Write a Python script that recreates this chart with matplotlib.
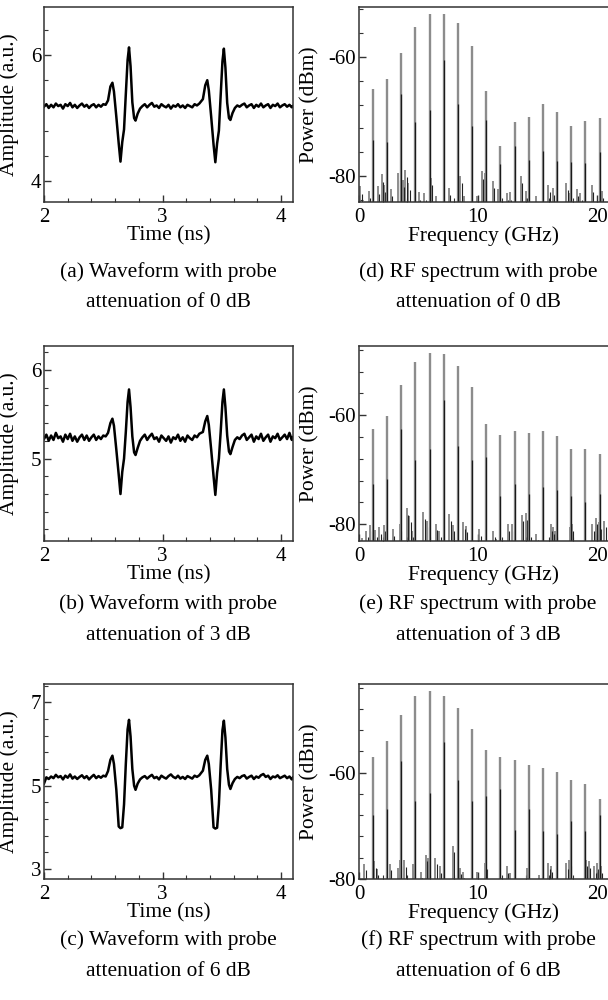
import matplotlib
matplotlib.use("Agg")
import matplotlib.pyplot as plt
from matplotlib.ticker import MultipleLocator, FuncFormatter

plt.rcParams['font.family'] = ['Liberation Serif', 'DejaVu Serif']

# ---------------- waveform data ----------------
wave_time = [2.00,2.02,2.04,2.06,2.08,2.10,2.12,2.14,2.16,2.18,2.20,2.22,2.24,2.26,2.28,2.30,2.32,2.34,2.36,2.38,2.40,2.42,2.44,2.46,2.48,2.50,2.52,
             2.54,2.56,2.577,2.59,2.61,2.63,2.645,2.66,2.675,2.69,2.705,2.717,2.73,2.745,2.76,2.772,2.79,2.81,2.83,
             2.85,2.87,2.89,2.91,2.93,2.95,2.97,2.99,3.01,3.03,3.05,3.07,3.09,3.11,3.13,3.15,3.17,3.19,3.21,3.23,3.25,3.27,3.29,3.31,
             3.34,3.36,3.377,3.39,3.41,3.43,3.445,3.46,3.475,3.49,3.505,3.517,3.53,3.545,3.56,3.572,3.59,3.61,3.63,
             3.65,3.67,3.69,3.71,3.73,3.75,3.77,3.79,3.81,3.83,3.85,3.87,3.89,3.91,3.93,3.95,3.97,3.99,4.01,4.03,4.05,4.07,4.09,4.10]

wave_a = [5.18,5.22,5.16,5.21,5.17,5.23,5.19,5.21,5.15,5.22,5.19,5.24,5.17,5.21,5.16,5.20,5.23,5.18,5.21,5.16,5.20,5.22,5.17,5.21,5.18,5.22,5.21,
          5.28,5.50,5.56,5.42,5.02,4.60,4.31,4.62,4.82,5.38,5.92,6.12,5.82,5.25,5.00,4.96,5.07,5.15,5.19,
          5.22,5.17,5.21,5.24,5.18,5.20,5.16,5.22,5.19,5.17,5.21,5.15,5.20,5.18,5.22,5.17,5.20,5.16,5.21,5.19,5.17,5.22,5.20,5.23,
          5.30,5.52,5.60,5.44,5.02,4.58,4.30,4.60,4.80,5.36,5.90,6.10,5.80,5.24,5.00,4.97,5.08,5.16,5.20,
          5.18,5.21,5.23,5.17,5.20,5.22,5.16,5.21,5.18,5.23,5.17,5.20,5.22,5.16,5.21,5.19,5.23,5.17,5.20,5.22,5.18,5.21,5.17,5.19]

wave_b = [5.22,5.27,5.20,5.26,5.21,5.29,5.23,5.25,5.19,5.27,5.22,5.28,5.20,5.25,5.19,5.24,5.27,5.21,5.26,5.20,5.24,5.27,5.21,5.25,5.22,5.26,5.25,
          5.29,5.40,5.45,5.37,5.10,4.82,4.60,4.85,5.00,5.30,5.64,5.78,5.58,5.25,5.07,5.04,5.12,5.20,5.24,
          5.27,5.21,5.25,5.28,5.22,5.24,5.19,5.26,5.23,5.20,5.25,5.18,5.24,5.22,5.27,5.20,5.24,5.19,5.26,5.23,5.21,5.26,5.24,5.28,
          5.30,5.42,5.48,5.38,5.10,4.80,4.59,4.84,5.00,5.30,5.64,5.78,5.58,5.26,5.08,5.05,5.13,5.21,5.24,
          5.22,5.26,5.28,5.21,5.24,5.27,5.19,5.25,5.22,5.28,5.20,5.24,5.27,5.19,5.25,5.23,5.28,5.21,5.24,5.27,5.22,5.29,5.21,5.24]

wave_c = [5.05,5.20,5.16,5.22,5.18,5.26,5.20,5.23,5.15,5.24,5.19,5.27,5.17,5.22,5.16,5.21,5.25,5.18,5.23,5.15,5.21,5.26,5.18,5.23,5.19,5.24,5.22,
          5.35,5.62,5.72,5.52,4.90,4.02,3.98,4.00,4.55,5.52,6.35,6.58,6.18,5.40,5.00,4.90,5.05,5.15,5.20,
          5.23,5.17,5.22,5.26,5.18,5.21,5.15,5.24,5.20,5.17,5.23,5.27,5.21,5.18,5.24,5.17,5.21,5.16,5.23,5.20,5.17,5.24,5.21,5.25,
          5.36,5.62,5.72,5.52,4.90,4.00,3.97,3.99,4.55,5.50,6.33,6.56,6.16,5.40,5.02,4.92,5.06,5.16,5.21,
          5.18,5.23,5.25,5.17,5.21,5.24,5.16,5.22,5.19,5.25,5.28,5.21,5.24,5.16,5.22,5.20,5.25,5.18,5.21,5.24,5.18,5.22,5.15,5.20]

# ---------------- spectrum data ----------------
harm_freq = [1.16, 2.36, 3.55, 4.74, 5.93, 7.12, 8.31, 9.50, 10.69, 11.88, 13.07, 14.26, 15.45, 16.64, 17.83, 19.02, 20.21]

peak_d = [-65.4,-63.8,-59.4,-55.1,-52.9,-52.9,-54.4,-58.2,-65.7,-75.0,-71.0,-70.1,-67.9,-69.2,-71.6,-70.7,-70.3]
dark_d = [-73.9,-74.2,-66.3,-71.0,-68.9,-60.6,-67.9,-71.6,-70.6,-78.0,-75.0,-77.2,-75.7,-77.4,-77.6,-77.8,-76.0]
peak_e = [-62.6,-60.2,-54.5,-50.3,-48.5,-48.7,-50.9,-54.9,-61.7,-63.6,-62.9,-63.3,-62.9,-63.9,-66.2,-66.3,-67.2]
dark_e = [-72.7,-71.7,-62.5,-68.3,-66.3,-57.2,-65.7,-68.3,-67.7,-74.8,-72.6,-74.5,-73.2,-73.8,-74.8,-76.0,-74.5]
peak_f = [-57.0,-54.0,-49.1,-45.5,-44.6,-45.5,-47.9,-51.7,-55.8,-57.0,-57.6,-58.6,-59.2,-59.8,-61.3,-62.1,-64.9]
dark_f = [-67.9,-66.9,-57.8,-65.3,-63.9,-54.3,-61.3,-65.3,-64.4,-63.1,-70.7,-66.8,-71.0,-71.6,-69.1,-71.0,-67.9]

noise_f_d = [0.1,0.8,1.6,1.9,2.06,2.67,3.3,3.7,3.9,4.15,5.0,5.5,6.05,6.5,7.55,8.5,8.8,9.9,10.3,10.55,11.25,11.7,12.4,12.65,13.6,14.0,14.9,15.9,16.3,17.4,17.7,18.3,18.6,19.55,20.4]
noise_p_d = [-81.7,-82.5,-81.7,-79.7,-81.4,-82.1,-79.4,-80.6,-78.9,-81.1,-82.7,-82.8,-80.3,-83.3,-81.9,-80.0,-83.3,-83.3,-79.2,-79.4,-80.8,-82.2,-82.8,-82.7,-80.0,-82.5,-83.3,-81.4,-81.9,-81.1,-82.8,-82.1,-82.8,-81.4,-82.5]
noise_f_e = [0.25,0.6,0.95,1.36,1.72,2.06,2.84,3.45,4.0,4.23,4.43,5.4,5.74,6.46,6.74,7.58,7.9,8.75,8.95,10.1,11.3,11.5,12.5,12.87,13.7,14.0,14.3,14.9,16.1,16.3,16.5,17.7,17.9,19.6,19.9,20.2,20.6]
noise_p_e = [-82.5,-81.2,-80.1,-81.1,-80.6,-80.1,-80.9,-80.0,-77.1,-78.5,-81.2,-77.8,-79.4,-79.9,-81.2,-78.2,-80.1,-79.7,-80.3,-80.9,-81.2,-82.8,-80.0,-80.0,-78.3,-78.0,-81.2,-81.8,-80.0,-80.6,-81.2,-80.6,-80.0,-80.0,-78.8,-79.7,-79.4]
noise_f_f = [0.45,1.3,1.5,2.6,3.3,3.45,3.8,4.5,5.18,5.6,5.8,6.4,6.8,7.9,8.47,8.7,9.9,10.6,11.9,12.4,12.65,14.1,15.15,15.9,16.1,17.4,17.66,19.05,19.3,19.75,20.0,20.3]
noise_p_f = [-77.1,-76.7,-78.1,-77.1,-77.9,-76.4,-76.5,-77.1,-78.7,-75.4,-76.0,-76.0,-77.6,-73.7,-77.9,-78.7,-78.6,-77.0,-79.8,-77.6,-78.9,-77.9,-79.2,-76.9,-77.5,-77.0,-76.4,-76.4,-76.7,-77.6,-77.0,-77.6]

# (label, trace, ylim, major step, major offset, minor step, minor offset, attenuation)
wave_sets = [
    ("a", wave_a, (3.67, 6.76), 2, 0, 0.4, 0, "0"),
    ("b", wave_b, (4.07, 6.27), 1, 0, 0.2, 0, "3"),
    ("c", wave_c, (2.76, 7.44), 2, 1, 0.4, 0.2, "6"),
]
spec_sets = [
    ("d", peak_d, dark_d, noise_f_d, noise_p_d, (-84.3, -51.7), "0"),
    ("e", peak_e, dark_e, noise_f_e, noise_p_e, (-83.1, -47.3), "3"),
    ("f", peak_f, dark_f, noise_f_f, noise_p_f, (-80.0, -43.3), "6"),
]

W, H = 608, 1000
fig = plt.figure(figsize=(W / 100, H / 100), dpi=100)

row_tops = [7, 346, 684]
cap_y = [(272, 303), (604, 636), (940, 972)]
ax_h = 195
TFS = 15
LFS = 15.5
CAP_FS = 15.4

def style(ax):
    for s in ax.spines.values():
        s.set_linewidth(1.1)
        s.set_color('#333333')
    ax.tick_params(which='both', direction='in', top=False, right=False,
                   labelsize=TFS, color='#333333')
    ax.tick_params(axis='x', which='both', pad=4)
    ax.tick_params(axis='y', which='both', pad=2)
    ax.tick_params(which='major', length=5, width=1.0)
    ax.tick_params(which='minor', length=3, width=0.8)

hyph = FuncFormatter(lambda v, p: ("%g" % round(v, 6)).replace("\u2212", "-"))

for i, (lab, amp, ylim, maj, moff, mnr, noff, att) in enumerate(wave_sets):
    top = row_tops[i]
    ax = fig.add_axes([44 / W, 1 - (top + ax_h) / H, 249 / W, ax_h / H])
    ax.plot(wave_time, amp, color='black', lw=1.8, solid_joinstyle='round')
    ax.set_xlim(2, 4.1)
    ax.set_ylim(*ylim)
    ax.xaxis.set_major_locator(MultipleLocator(1))
    ax.xaxis.set_minor_locator(MultipleLocator(0.2))
    ax.yaxis.set_major_locator(MultipleLocator(maj, offset=moff))
    ax.yaxis.set_minor_locator(MultipleLocator(mnr, offset=noff))
    ax.xaxis.set_major_formatter(hyph)
    ax.yaxis.set_major_formatter(hyph)
    style(ax)
    ax.set_xlabel("Time (ns)", fontsize=LFS, labelpad=0)
    ax.set_ylabel("Amplitude (a.u.)", fontsize=LFS)
    ax.yaxis.set_label_coords(-25 / 249, 0.5)
    fig.text(168 / W, 1 - cap_y[i][0] / H, "(%s) Waveform with probe" % lab,
             ha='center', va='center', fontsize=CAP_FS)
    fig.text(168 / W, 1 - cap_y[i][1] / H, "attenuation of %s dB" % att,
             ha='center', va='center', fontsize=CAP_FS)

for i, (lab, pk, dk, nf, npow, ylim, att) in enumerate(spec_sets):
    top = row_tops[i]
    ax = fig.add_axes([359 / W, 1 - (top + ax_h) / H, 249 / W, ax_h / H])
    floor = ylim[0]
    ax.vlines(nf, floor, npow, color='#7a7a7a', lw=1.2)
    ax.vlines([f + 0.12 for f in nf], floor, [p - 1.2 for p in npow], color='#222222', lw=0.8)
    ax.vlines(harm_freq, floor, pk, color='#8c8c8c', lw=1.7)
    ax.vlines(harm_freq, floor, dk, color='#1a1a1a', lw=0.9)
    ax.set_xlim(0, 20.92)
    ax.set_ylim(*ylim)
    ax.spines['right'].set_visible(False)
    ax.xaxis.set_major_locator(MultipleLocator(10))
    ax.xaxis.set_minor_locator(MultipleLocator(2))
    ax.yaxis.set_major_locator(MultipleLocator(20))
    ax.yaxis.set_minor_locator(MultipleLocator(4))
    ax.xaxis.set_major_formatter(hyph)
    ax.yaxis.set_major_formatter(hyph)
    style(ax)
    ax.set_xlabel("Frequency (GHz)", fontsize=LFS, labelpad=0)
    ax.set_ylabel("Power (dBm)", fontsize=LFS)
    ax.yaxis.set_label_coords(-40 / 249, 0.5)
    fig.text(478 / W, 1 - cap_y[i][0] / H, "(%s) RF spectrum with probe" % lab,
             ha='center', va='center', fontsize=CAP_FS)
    fig.text(478 / W, 1 - cap_y[i][1] / H, "attenuation of %s dB" % att,
             ha='center', va='center', fontsize=CAP_FS)

fig.savefig("out.png", dpi=100)
